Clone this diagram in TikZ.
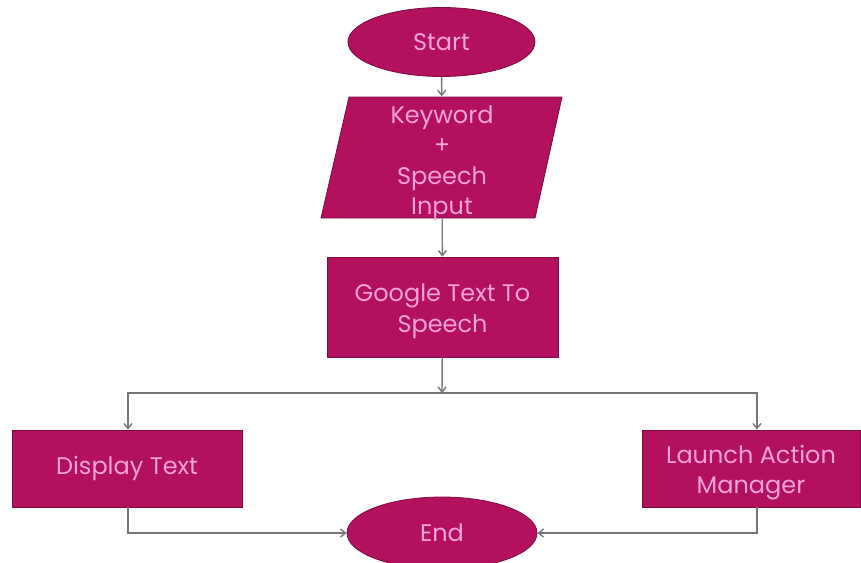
\documentclass[tikz,border=0pt]{standalone}
\usepackage{fontspec}
\setmainfont{Poppins}
\usetikzlibrary{arrows.meta,shapes.geometric}
\definecolor{boxfill}{HTML}{B3105E}
\definecolor{boxtext}{HTML}{F7A2D8}
\definecolor{boxline}{HTML}{7E0B43}
\definecolor{conn}{HTML}{767676}
\newcommand{\lowerby}[2]{\raisebox{-#1}[\height][\depth]{\begin{tabular}{@{}c@{}}#2\end{tabular}}}
\begin{document}
\begin{tikzpicture}[x=1pt,y=-1pt,
  every node/.style={font=\fontsize{24}{30.5}\selectfont, text=boxtext, align=center, inner sep=0pt},
  blob/.style={ellipse, fill=boxfill, draw=boxline, line width=0.8pt},
  procbox/.style={rectangle, fill=boxfill, draw=boxline, line width=0.8pt},
  conn/.style={draw=conn, line width=1.4pt, -{Straight Barb[length=5pt,width=8pt]}}]
\useasboundingbox (0,0) rectangle (861,562);
\node[blob, minimum width=187pt, minimum height=69pt] (start) at (441.5,42) {\lowerby{2pt}{Start}};
\filldraw[fill=boxfill, draw=boxline, line width=0.8pt] (349,97) -- (562,97) -- (535,218) -- (321,218) -- cycle;
\node[minimum width=190pt, minimum height=121pt] (kw) at (442,157.5) {\lowerby{5.5pt}{Keyword\\+\\Speech\\Input}};
\node[procbox, minimum width=231pt, minimum height=100pt] (gt) at (442.5,307) {\lowerby{4pt}{Google Text To\\Speech}};
\coordinate (j) at (442,393);
\node[procbox, minimum width=230pt, minimum height=77pt] (disp) at (127,468.5) {Display Text};
\node[procbox, minimum width=218pt, minimum height=77pt] (launch) at (751,468.5) {\lowerby{4pt}{Launch Action\\Manager}};
\node[blob, minimum width=190pt, minimum height=72pt] (end) at (442,533) {End};
\draw[conn] (start) -- (kw);
\draw[conn] (kw) -- (gt);
\draw[conn] (gt) -- (j);
\draw[conn] (j) -| ([xshift=1pt]disp.north);
\draw[conn] (j) -| ([xshift=6pt]launch.north);
\draw[conn] ([xshift=1pt]disp.south) |- (end.west);
\draw[conn] ([xshift=6pt]launch.south) |- (end.east);
\end{tikzpicture}
\end{document}
